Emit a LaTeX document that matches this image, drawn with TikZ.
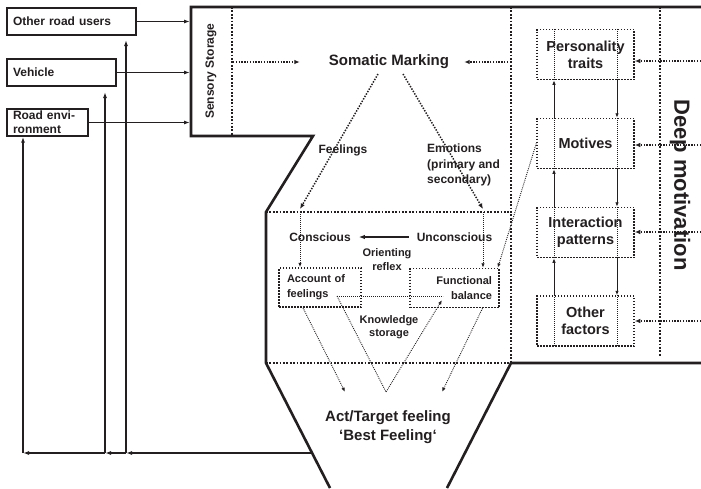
\documentclass[tikz,border=0pt]{standalone}
\usepackage{fontspec}
\setmainfont{Liberation Sans}
\usetikzlibrary{arrows.meta}
\definecolor{ink}{RGB}{35,31,32}
\newcommand{\fsz}[2]{\fontsize{#1}{#2}\selectfont\bfseries}

\begin{document}
\begin{tikzpicture}[x=1pt,y=-1pt,
  every node/.style={inner sep=0pt,text=ink},
  inbox/.style={draw=ink,line width=1.4pt,minimum height=27pt,inner xsep=6pt,align=left,font=\fsz{12}{14}},
  hull/.style={draw=ink,line width=2.6pt,line join=miter},
  sepline/.style={draw=ink,line width=2.4pt,dash pattern=on 1.7pt off 1.7pt},
  dotarrow/.style={draw=ink,line width=1.5pt,dash pattern=on 1.4pt off 1.4pt,-{Latex[length=5.5pt,width=4.5pt]}},
  thindot/.style={draw=ink,line width=0.9pt,dash pattern=on 0.9pt off 1.1pt},
  thinarrow/.style={thindot,-{Latex[length=4.5pt,width=3.5pt]}},
  feed/.style={draw=ink,line width=1.4pt,-{Latex[length=6pt,width=4pt]}},
  flow/.style={draw=ink,line width=1pt,-{Latex[length=4.5pt,width=3.5pt]}},
  motbox/.style={draw=ink,line width=1.5pt,dash pattern=on 1.5pt off 1.5pt,minimum width=97pt,minimum height=50pt,align=center,font=\fsz{14.5}{17}},
  midbox/.style={draw=ink,line width=1.5pt,dash pattern=on 1.5pt off 1.5pt,minimum height=39pt,font=\fsz{11}{15}},
]
\useasboundingbox (0,0) rectangle (701,488);
\fill[white] (0,0) rectangle (701,488);

% outer hull of the model
\coordinate (h1) at (701,7);
\coordinate (h2) at (191,7);
\coordinate (h3) at (191,136);
\coordinate (h4) at (313,136);
\coordinate (h5) at (266,212);
\coordinate (h6) at (266,363);
\coordinate (h7) at (330,488);
\coordinate (h8) at (701,363);
\coordinate (h9) at (511,363);
\coordinate (h10) at (447,488);
\draw[hull] (h1) -- (h2) -- (h3) -- (h4) -- (h5) -- (h6) -- (h7);
\draw[hull] (h8) -- (h9) -- (h10);

% dotted separators
\draw[sepline] (232,7) -- (232,136);
\draw[sepline] (511,7) -- (511,363);
\draw[sepline] (660,7) -- (660,357);
\draw[sepline] (h5) -- (511,212);
\draw[sepline] (h6) -- (h9);

% inputs
\node[inbox,text width=117pt] (ru) at (71.5,21.5) {Other road users};
\node[inbox,text width=97pt] (veh) at (61.5,72.5) {Vehicle};
\node[inbox,text width=69pt] (env) at (47.5,122.5) {Road envi-\\ronment};
\coordinate (inlet) at (190,0);
\draw[feed] (ru.east) -- (ru.east -| inlet);
\draw[feed] (veh.east) -- (veh.east -| inlet);
\draw[feed] (env.east) -- (env.east -| inlet);

\node[rotate=90,font=\fsz{12}{14}] (sens) at (211,71) {Sensory Storage};

% somatic marking
\node[font=\fsz{15}{18}] (som) at (389,62) {Somatic Marking};
\coordinate (ssout) at (233,62);
\coordinate (dmout) at (511,62);
\draw[dotarrow] (ssout) -- ([xshift=-29pt]som.west);
\draw[dotarrow] (dmout) -- ([xshift=15pt]som.east);

\coordinate (fA) at (378,74);
\coordinate (fB) at (300,209);
\coordinate (fdrop) at (300,212);
\coordinate (eA) at (403,74);
\coordinate (eB) at (483,209);
\coordinate (edrop) at (483,212);
\draw[dotarrow] (fA) -- (fB);
\draw[dotarrow] (eA) -- (eB);

\node[font=\fsz{12}{14}] (feel) at (343,150) {Feelings};
\node[font=\fsz{12}{15.5},align=left,anchor=west] (emo) at (427,165) {Emotions\\(primary and\\secondary)};

% conscious / unconscious level
\node[font=\fsz{12}{14}] (con) at (320,237) {Conscious};
\node[font=\fsz{12}{14}] (unc) at (454.5,237) {Unconscious};
\draw[draw=ink,line width=1.5pt,-{Latex[length=6pt,width=4.5pt]}] ([xshift=-8pt]unc.west) -- ([xshift=8pt]con.east);
\node[font=\fsz{11}{14},align=center] (orf) at (387,260) {Orienting\\reflex};

\node[midbox,minimum width=82pt,text width=66pt,inner xsep=8pt,align=left] (acc) at (320,287.5) {Account of\\feelings};
\node[midbox,minimum width=89pt,text width=75pt,inner xsep=7pt,align=right] (fb) at (454.5,288) {Functional\\balance};
\draw[thinarrow] (fdrop) -- (fdrop |- acc.north);
\draw[thinarrow] (edrop) -- (edrop |- fb.north);

\node[font=\fsz{11}{13},align=center] (ks) at (389,327) {Knowledge\\storage};
\coordinate (kL) at (337,296);
\coordinate (kR) at (443,296);
\coordinate (kV) at (386,392);
\coordinate (kT) at (442,300);
\draw[thindot] (kL) -- (kR);
\draw[thinarrow] (kL) -- (kV) -- (kT);

% towards the target feeling
\coordinate (aL) at (345,392);
\coordinate (aR) at (442,392);
\draw[thinarrow] ([xshift=-17pt]acc.south) -- (aL);
\draw[thinarrow] ([xshift=28pt]fb.south) -- (aR);
\node[font=\fsz{15}{19},align=center] (act) at (388,427) {Act/Target feeling\\‘Best Feeling‘};

% deep motivation column
\node[motbox] (pt) at (585.5,54.5) {Personality\\traits};
\node[motbox] (mot) at (585.5,143.5) {Motives};
\node[motbox] (ip) at (585.5,232.5) {Interaction\\patterns};
\node[motbox] (of) at (585.5,321) {Other\\factors};
\foreach \b in {pt,mot,ip,of} {
  \draw[thindot] ([xshift=-31.5pt]\b.north) -- ([xshift=-31.5pt]\b.south);
  \draw[thindot] ([xshift=31.5pt]\b.north) -- ([xshift=31.5pt]\b.south);
}
\foreach \u/\l in {pt/mot,mot/ip,ip/of} {
  \draw[flow] ([xshift=-31.5pt]\l.north) -- ([xshift=-31.5pt]\u.south);
  \draw[flow] ([xshift=31.5pt]\u.south) -- ([xshift=31.5pt]\l.north);
}
\draw[thinarrow] (mot.west) -- ([xshift=-2pt]fb.north east);

\coordinate (r1) at (701,61);
\coordinate (r2) at (701,145);
\coordinate (r3) at (701,232);
\coordinate (r4) at (701,321);
\draw[dotarrow] (r1) -- (r1 -| pt.east);
\draw[dotarrow] (r2) -- (r2 -| mot.east);
\draw[dotarrow] (r3) -- (r3 -| ip.east);
\draw[dotarrow] (r4) -- (r4 -| of.east);

\node[rotate=-90,font=\fsz{22}{26}] (deep) at (680,185) {Deep motivation};

% feedback to the inputs
\coordinate (fo) at (312,453);
\coordinate (c3) at (126,453);
\coordinate (c2) at (105,453);
\coordinate (c1) at (23,453);
\coordinate (v2) at (105,92);
\coordinate (v3) at (126,40);
\draw[feed] (fo) -- (c3);
\draw[feed] (c3) -- (c2);
\draw[feed] (c2) -- (c1);
\draw[feed] (c1) -- (c1 |- env.south);
\draw[feed] (c2) -- (v2);
\draw[feed] (c3) -- (v3);
\end{tikzpicture}
\end{document}
